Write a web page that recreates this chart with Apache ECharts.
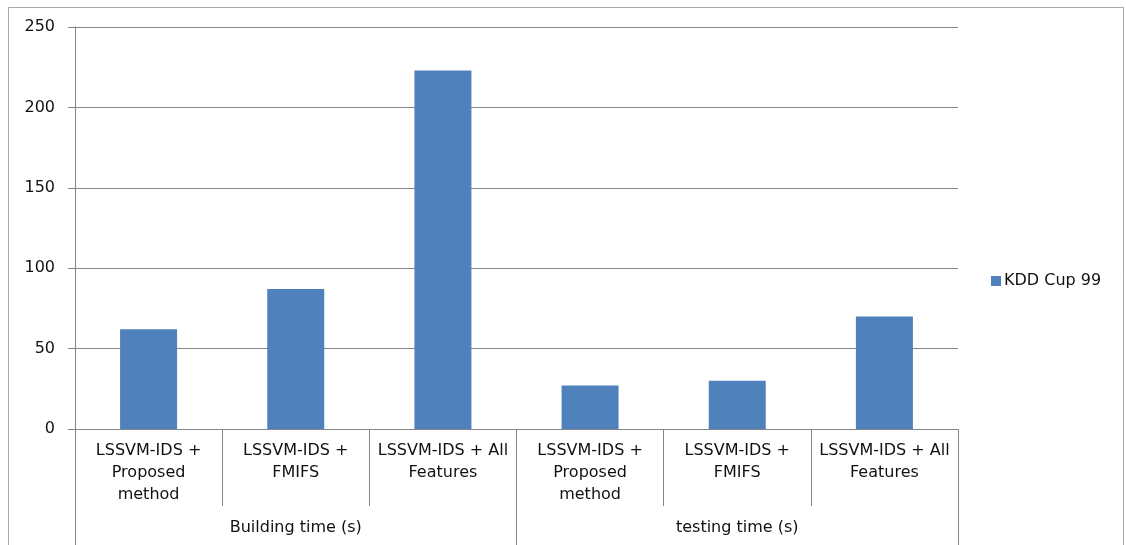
<!DOCTYPE html>
<html>
<head>
<meta charset="utf-8">
<script src="https://cdn.jsdelivr.net/npm/echarts@6/dist/echarts.min.js"></script>
<style>
  html, body { margin: 0; padding: 0; background: #fff; }
  #chart { width: 1126px; height: 545px; }
</style>
</head>
<body>
<div id="chart"></div>
<script>
// Methods compared, grouped under the two timing measures
const methods = [
  'LSSVM-IDS +\nProposed\nmethod',
  'LSSVM-IDS +\nFMIFS',
  'LSSVM-IDS + All\nFeatures',
  'LSSVM-IDS +\nProposed\nmethod',
  'LSSVM-IDS +\nFMIFS',
  'LSSVM-IDS + All\nFeatures'
];
const groups = ['Building time (s)', 'testing time (s)'];
const seriesName = 'KDD Cup 99';
const kddValues = [62, 87, 223, 27, 30, 70];
const yTicks = { min: 0, max: 250, interval: 50 };

const FONT = 'DejaVu Sans';
const TEXT = '#111111';
const LINE = '#858585';

const chart = echarts.init(document.getElementById('chart'), null, { renderer: 'canvas' });

chart.setOption({
  animation: false,
  backgroundColor: '#ffffff',
  textStyle: { fontFamily: FONT },
  graphic: [{
    type: 'rect',
    shape: { x: 8.5, y: 7.5, width: 1115, height: 600 },
    style: { fill: null, stroke: '#a8a8a8', lineWidth: 1 },
    silent: true
  }],
  grid: { left: 75, right: 168, top: 27, bottom: 116, containLabel: false },
  legend: {
    data: [seriesName],
    left: 986,
    top: 268,
    orient: 'vertical',
    itemWidth: 10,
    itemHeight: 10,
    icon: 'rect',
    itemGap: 4,
    textStyle: { fontFamily: FONT, fontSize: 16, color: TEXT, padding: [0, 0, 0, -2] }
  },
  xAxis: [
    {
      type: 'category',
      data: methods,
      position: 'bottom',
      boundaryGap: true,
      axisLine: { show: true, lineStyle: { color: LINE, width: 1 } },
      axisTick: { show: true, interval: 0, length: 77, lineStyle: { color: LINE, width: 1 } },
      axisLabel: {
        interval: 0,
        margin: 11,
        fontFamily: FONT,
        fontSize: 16,
        lineHeight: 22,
        color: TEXT,
        align: 'center'
      }
    },
    {
      type: 'category',
      data: groups,
      position: 'bottom',
      boundaryGap: true,
      axisLine: { show: false },
      axisTick: { show: true, interval: 0, length: 116, lineStyle: { color: LINE, width: 1 } },
      axisLabel: {
        interval: 0,
        margin: 88,
        fontFamily: FONT,
        fontSize: 16,
        lineHeight: 22,
        color: TEXT
      }
    }
  ],
  yAxis: {
    type: 'value',
    min: yTicks.min,
    max: yTicks.max,
    interval: yTicks.interval,
    axisLine: { show: true, lineStyle: { color: LINE, width: 1 } },
    axisTick: { show: true, length: 7, lineStyle: { color: LINE, width: 1 } },
    splitLine: { show: true, lineStyle: { color: LINE, width: 1 } },
    axisLabel: { margin: 20, fontFamily: FONT, fontSize: 16, color: TEXT }
  },
  series: [{
    name: seriesName,
    type: 'bar',
    xAxisIndex: 0,
    data: kddValues,
    barWidth: 57,
    itemStyle: { color: '#4f81bd' }
  }]
});
</script>
</body>
</html>
